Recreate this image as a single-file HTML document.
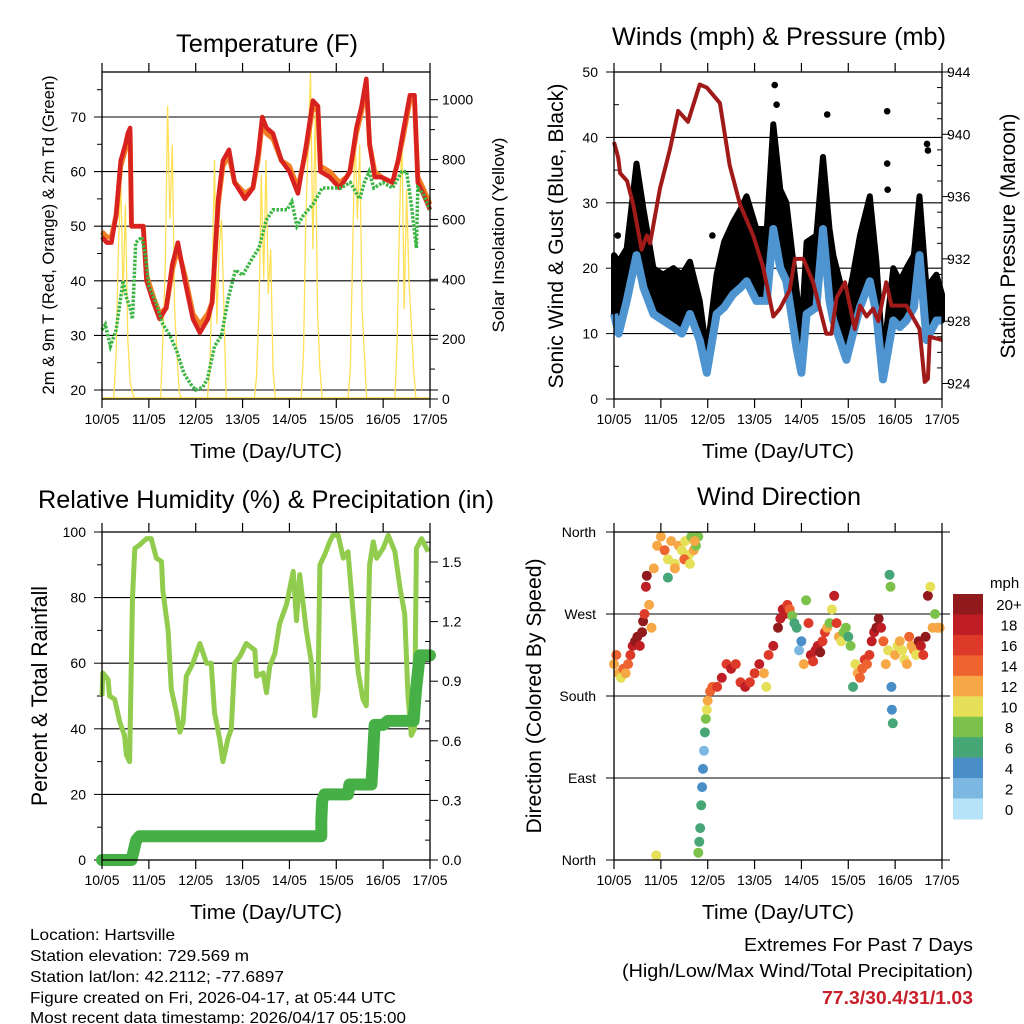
<!DOCTYPE html>
<html><head><meta charset="utf-8"><style>
html,body{margin:0;padding:0;background:#fff;}
svg{display:block;font-family:"Liberation Sans",sans-serif;}
</style></head><body>
<svg id="s" width="1024" height="1024" viewBox="0 0 1024 1024" xmlns="http://www.w3.org/2000/svg">
<g font-size="16" fill="#000">
<text x="30" y="940" textLength="145" lengthAdjust="spacingAndGlyphs">Location: Hartsville</text>
<text x="30" y="961" textLength="219" lengthAdjust="spacingAndGlyphs">Station elevation: 729.569 m</text>
<text x="30" y="982" textLength="254" lengthAdjust="spacingAndGlyphs">Station lat/lon: 42.2112; -77.6897</text>
<text x="30" y="1003" textLength="366" lengthAdjust="spacingAndGlyphs">Figure created on Fri, 2026-04-17, at 05:44 UTC</text>
<text x="30" y="1023" textLength="376" lengthAdjust="spacingAndGlyphs">Most recent data timestamp: 2026/04/17 05:15:00</text>
</g>
<g font-size="18">
<text x="744" y="951" textLength="229" lengthAdjust="spacingAndGlyphs">Extremes For Past 7 Days</text>
<text x="622" y="977" textLength="351" lengthAdjust="spacingAndGlyphs">(High/Low/Max Wind/Total Precipitation)</text>
<text x="822" y="1004" textLength="151" lengthAdjust="spacingAndGlyphs" fill="#c8202a" font-weight="bold">77.3/30.4/31/1.03</text>
</g>
</svg>
<script>
// ---------- data ----------
const dayLabels=["10/05","11/05","12/05","13/05","14/05","15/05","16/05","17/05"];
const tTime=[0,0.1,0.2,0.3,0.4,0.5,0.55,0.6,0.63,0.75,0.88,0.95,1.1,1.23,1.37,1.5,1.62,1.77,1.94,2.09,2.26,2.35,2.48,2.58,2.71,2.83,3.05,3.22,3.33,3.42,3.51,3.65,3.83,4.0,4.18,4.36,4.5,4.61,4.66,4.86,5.07,5.22,5.29,5.43,5.54,5.64,5.71,5.82,5.96,6.2,6.32,6.42,6.57,6.67,6.74,6.85,7.0];
const temp2m=[48,47,47,52,62,65,67,68,50,50,50,40,36,33,35,43,47,40,33,30.5,33,36,55,62,64,58,55,57,63,70,68,67,62,60,56,65,73,72,60,59,57,59,60,68,72,77,65,59,59,58,62,67,74,74,58,56,53];
const temp9m=[49,48,48,52,61,64,66,67,50,50,50,41,37,34,35,42,46,41,34,32,34,36,54,61,63,58,56,57,62,69,67,66,62,61,57,64,72,71,61,60,58,59,60,67,71,76,65,60,59,58,62,66,73,73,59,57,54];
const tdTime=[0,0.07,0.18,0.3,0.45,0.52,0.6,0.65,0.72,0.85,0.92,1.0,1.15,1.3,1.45,1.6,1.75,1.9,2.0,2.15,2.25,2.4,2.55,2.7,2.85,3.0,3.2,3.35,3.5,3.65,3.8,3.95,4.05,4.16,4.3,4.5,4.7,4.9,5.1,5.3,5.5,5.6,5.7,5.8,6.0,6.2,6.4,6.5,6.6,6.71,6.74,6.85,7.0];
const dewpoint=[31,32,28,31,40,37,35,33,47,48,45,39,36,32,30,27,23,21,20,20.5,22,28,30,37,42,41,44,46,51,53,53,53,54.5,50,52,54,57,57,57,58,55,58,60,57,58,57,60,60,54,46,57,56,53];
const solarDays=[0,1,2,3,4,5,6];
const solarHours=[0.25,0.3,0.35,0.4,0.45,0.5,0.55,0.6,0.65,0.7,0.75];
const solarD0=[0,150,500,740,350,650,200,60,20,0,0];
const solarD1=[0,200,450,980,600,850,300,150,20,0,0];
const solarD2=[0,100,400,800,250,500,600,320,0,0,0];
const solarD3=[0,80,300,750,400,800,350,500,100,0,0];
const solarD4=[0,150,600,850,1090,500,950,300,100,0,0];
const solarD5=[0,100,500,900,600,850,300,150,0,0,0];
const solarD6=[0,200,600,880,300,700,400,250,100,0,0];

const presTime=[0,0.09,0.13,0.28,0.41,0.59,0.7,0.77,0.98,1.19,1.37,1.58,1.83,1.98,2.26,2.47,2.69,2.97,3.18,3.4,3.54,3.75,3.86,4.04,4.25,4.53,4.64,4.75,4.93,5.14,5.25,5.39,5.53,5.64,5.81,5.92,6.24,6.52,6.63,6.7,6.74,7.0];
const pressure=[939.5,938.5,937.5,937,935.5,932.6,933.5,933,936.5,939,941.5,940.8,943.2,943,942,938,935.5,933.5,931.5,928.3,928.8,930,932,932,930.5,927.2,927.2,929.5,930.5,927.5,929,928.3,928.8,928,930.5,929,929,927.5,924.1,924.3,927,926.8];
const windTime=[0,0.1,0.27,0.48,0.63,0.84,1.05,1.27,1.45,1.62,1.83,1.98,2.19,2.35,2.54,2.7,2.83,3.04,3.26,3.4,3.55,3.68,3.89,4.0,4.11,4.32,4.46,4.6,4.68,4.96,5.1,5.25,5.46,5.6,5.74,5.96,6.1,6.24,6.4,6.52,6.67,6.88,7.0];
const gust=[22,21,23,36,29,20,19,20,19,21,15,7,19,24,27,29,31,26,26,42,32,30,17,10,24,25,37,26,22,14,19,25,31,21,6,20,18,20,22,31,17,19,16];
const wind=[13,10,15,22,17,13,12,11,10,13,9,4,13,14,16,17,18,15,15,26,20,18,8,4,13,14,26,15,12,6,10,14,18,13,3,12,11,12,14,22,9,12,12];
const gustOutTime=[3.43,3.47,4.55,5.83,5.83,5.84,6.68,6.7,0.08,2.1];
const gustOutVal=[48,45,43.5,44,36,32,39,38,25,25];

const rhTime=[0,0.02,0.13,0.16,0.27,0.38,0.48,0.52,0.59,0.65,0.7,0.8,0.95,1.05,1.16,1.27,1.3,1.41,1.48,1.59,1.66,1.73,1.8,1.94,2.09,2.23,2.33,2.4,2.51,2.58,2.69,2.76,2.83,2.94,3.08,3.26,3.3,3.44,3.51,3.58,3.69,3.79,3.94,4.08,4.15,4.22,4.36,4.47,4.54,4.61,4.65,4.75,4.86,4.93,5.04,5.15,5.25,5.36,5.47,5.57,5.64,5.71,5.79,5.86,6.0,6.11,6.25,6.36,6.46,6.53,6.6,6.67,6.71,6.82,6.96];
const rh=[50,57,55,50,49,42,38,32,30,80,95,96,98,98,92,91,82,70,52,45,39,42,56,60,66,60,60,45,37,30,37,40,60,62,66,64,56,57,51,59,63,72,78,88,73,87,70,60,44,52,90,93,97,99,99,92,94,75,57,49,47,90,97,92,95,99,94,83,75,50,38,40,95,98,94];
const rainTime=[0,0.63,0.73,0.8,4.68,4.68,4.7,4.75,5.25,5.28,5.75,5.78,5.8,5.82,6.0,6.1,6.65,6.7,6.78,7.0];
const rain=[0,0,0.1,0.12,0.12,0.2,0.3,0.33,0.33,0.38,0.38,0.5,0.6,0.68,0.68,0.7,0.7,0.85,1.03,1.03];

const wdTime=[0,0.05,0.1,0.15,0.2,0.25,0.3,0.35,0.4,0.45,
0.5,0.55,0.6,0.62,0.65,0.68,0.7,0.75,0.8,0.9,
0.85,0.92,1.0,1.08,1.15,1.22,1.3,1.38,1.45,1.52,
1.6,1.65,1.7,1.75,1.8,1.15,1.3,1.5,1.62,1.72,
1.8,1.82,1.84,1.86,1.88,1.9,1.92,1.94,1.96,1.98,
2.0,2.05,2.1,2.2,2.3,2.4,2.5,2.6,2.7,2.8,
2.9,3.0,3.1,3.2,3.25,3.3,3.4,3.5,3.55,3.6,
3.65,3.7,3.75,3.8,3.85,3.9,3.95,4.0,4.05,4.1,
4.15,4.2,4.25,4.3,4.35,4.4,4.45,4.5,4.55,4.6,
4.65,4.7,4.75,4.8,4.85,4.9,4.95,5.0,5.05,5.1,
5.15,5.2,5.25,5.3,5.35,5.4,5.45,5.5,5.55,5.6,
5.65,5.7,5.75,5.8,5.85,5.88,5.9,5.92,5.93,5.95,
6.0,6.05,6.1,6.15,6.2,6.25,6.3,6.35,6.4,6.45,
6.5,6.55,6.6,6.65,6.7,6.75,6.8,6.85,6.9,6.95];
const wdDir=[215,225,205,200,210,205,215,225,235,240,
245,235,250,262,270,300,312,280,255,5,
320,345,355,340,330,350,325,345,340,350,
335,355,340,345,355,310,320,330,325,350,
8,20,35,60,80,100,120,140,155,165,
175,185,190,190,200,215,210,215,195,190,
195,205,215,205,190,225,235,255,265,275,
270,280,275,268,260,255,230,240,215,285,
260,225,218,230,235,228,240,250,255,260,
275,290,260,245,240,250,255,245,235,190,
215,205,200,210,220,215,225,240,250,255,
265,255,240,215,230,313,300,190,165,150,
225,235,240,230,220,215,245,235,230,225,
240,235,225,245,290,300,255,270,255,255];
const wdSpeed=[12,14,12,11,15,13,14,16,19,20,
20,19,20,20,17,18,20,13,13,10,
12,13,12,14,11,12,10,13,11,10,
11,9,12,8,9,6,12,15,10,12,
8,7,6,6,4,4,3,6,8,10,
12,14,14,16,18,17,18,17,16,18,
17,16,18,12,11,17,19,20,19,19,
18,17,14,8,7,6,3,5,12,8,
17,18,16,19,18,20,17,16,13,8,
10,19,17,12,10,9,8,6,9,6,
10,12,14,14,16,15,17,18,19,20,
20,18,14,12,10,7,8,4,4,6,
12,10,13,11,10,12,14,13,12,11,
20,19,16,20,22,10,12,8,12,13];
const colorLevels=["0","2","4","6","8","10","12","14","16","18","20+"];
const colorScale=["#b6e3f8","#7cb8e2","#4a8ec8","#47a676","#7cc24a","#e6df58","#f7a846","#ee6430","#de3a2a","#be1e24","#911a1c"];

// ---------- helpers ----------
const NS="http://www.w3.org/2000/svg";
const svg=document.getElementById('s');
function el(tag,attrs,parent){const e=document.createElementNS(NS,tag);for(const k in attrs)e.setAttribute(k,attrs[k]);(parent||svg).appendChild(e);return e;}
function txt(s,attrs,parent){const e=el('text',attrs,parent);e.textContent=s;return e;}
function mkx(x0,x1){return d=>x0+(x1-x0)*d/7;}
function mky(v0,v1,yb,yt){return v=>yb-(v-v0)*(yb-yt)/(v1-v0);}
function pathOf(ts,vs,X,Y){return ts.map((t,i)=>(i?'L':'M')+X(t).toFixed(1)+','+Y(vs[i]).toFixed(1)).join('');}

function frame(g,L,R,T,B,X){
  dayLabels.forEach((lab,i)=>{
    const x=X(i);
    const tk=el('line',{x1:x,x2:x,y1:T-9,y2:T,stroke:'#000','stroke-width':1.2},g);
    
    
    const bt=el('line',{x1:x,x2:x,y1:B,y2:B+9,stroke:'#000','stroke-width':1.2},g);
    
    
    const t=txt(lab,{x:x,y:B+25,'font-size':14,'text-anchor':'middle'},g);
    
    
  });
  const xt=txt('Time (Day/UTC)',{x:(L+R)/2,y:B+59,'font-size':20,'text-anchor':'middle',textLength:152,lengthAdjust:'spacingAndGlyphs'},g);
  
  
}
function box(g,L,R,T,B){
  const r=el('rect',{x:L,y:T,width:R-L,height:B-T,fill:'none',stroke:'#000','stroke-width':1.3},g);
  
  
}
function hgrid(g,L,R,y,ext){
  const l=el('line',{x1:L-ext,x2:R+ext,y1:y,y2:y,stroke:'#000','stroke-width':1.1},g);
  
  
}
function title(g,s,x,y,w){
  const t=txt(s,{x:x,y:y,'font-size':25,'text-anchor':'middle',textLength:w,lengthAdjust:'spacingAndGlyphs'},g);
  
  
}
function ylab(g,s,x,y,size,w){
  const t=txt(s,{x:0,y:0,'font-size':size,'text-anchor':'middle',transform:`translate(${x},${y}) rotate(-90)`,textLength:w,lengthAdjust:'spacingAndGlyphs'},g);
  
  
}
function tickLab(g,s,x,y,anchor){
  const t=txt(s,{x:x,y:y+5,'font-size':14,'text-anchor':anchor},g);
  
  
}
function minor(g,x,y,len){el('line',{x1:x,x2:x+len,y1:y,y2:y,stroke:'#000','stroke-width':1},g);}

// ---------- Panel 1: temperature ----------
(function(){
  const L=102,R=430,T=72,B=399;
  const g=el('g',{});
  
  
  const X=mkx(L,R), Y=mky(20,70,390,117), YS=mky(0,1000,399,99.7);
  title(g,'Temperature (F)',267,52,182);
  [20,30,40,50,60,70].forEach(v=>{hgrid(g,L,R,Y(v),8);tickLab(g,String(v),86,Y(v),'end');});
  [25,35,45,55,65,75].forEach(v=>minor(g,L,Y(v),-5));
  [0,200,400,600,800,1000].forEach(v=>{el('line',{x1:R,x2:R+8,y1:YS(v),y2:YS(v),stroke:'#000'},g);tickLab(g,String(v),442,YS(v),'start');});
  [100,300,500,700,900,1100].forEach(v=>{if(YS(v)>T)minor(g,R,YS(v),5);});
  const solarAll=[solarD0,solarD1,solarD2,solarD3,solarD4,solarD5,solarD6];
  solarDays.forEach((d,i)=>{
    const ts=[d].concat(solarHours.map(h=>d+h)).concat([d+0.9]);
    const vs=[0].concat(solarAll[i]).concat([0]);
    const p=el('path',{d:pathOf(ts,vs,X,v=>YS(v)),fill:'none',stroke:'#ffe055','stroke-width':1.3},g);
    
    
  });
  const base=el('line',{x1:L,x2:R,y1:B-1,y2:B-1,stroke:'#ffe055','stroke-width':1.5},g);
  
  
  const o=el('path',{d:pathOf(tTime,temp9m,X,Y),fill:'none',stroke:'#f27d22','stroke-width':5,'stroke-linejoin':'round'},g);
  
  
  const r=el('path',{d:pathOf(tTime,temp2m,X,Y),fill:'none',stroke:'#d8221f','stroke-width':4.5,'stroke-linejoin':'round'},g);
  
  
  const gd=el('path',{d:pathOf(tdTime,dewpoint,X,Y),fill:'none',stroke:'#3db545','stroke-width':3.5,'stroke-dasharray':'2.5,1.5'},g);
  
  
  box(g,L,R,T,B);frame(g,L,R,T,B,X);
  ylab(g,'2m & 9m T (Red, Orange) & 2m Td (Green)',54,235,17,319);
  ylab(g,'Solar Insolation (Yellow)',504,235,17,195);
})();

// ---------- Panel 2: winds & pressure ----------
(function(){
  const L=614,R=942,T=72,B=399;
  const g=el('g',{});
  
  
  const X=mkx(L,R), Y=mky(0,50,399,72), YP=mky(924,944,383.5,72);
  title(g,'Winds (mph) & Pressure (mb)',779,45,334);
  [0,10,20,30,40,50].forEach(v=>{if(v>0&&v<50)hgrid(g,L,R,Y(v),0);el('line',{x1:L-8,x2:L,y1:Y(v),y2:Y(v),stroke:'#000'},g);tickLab(g,String(v),598,Y(v),'end');});
  [5,15,25,35,45].forEach(v=>minor(g,L,Y(v),5));
  [924,928,932,936,940,944].forEach(v=>{el('line',{x1:R,x2:R+8,y1:YP(v),y2:YP(v),stroke:'#000'},g);tickLab(g,String(v),947,YP(v),'start');});
  for(let v=925;v<944;v++){if(v%4)minor(g,R,YP(v),-5);}
  // gust cloud: band from wind up to gust
  const up=windTime.map((t,i)=>(i?'L':'M')+X(t).toFixed(1)+','+Y(gust[i]).toFixed(1)).join('');
  const dn=windTime.slice().reverse().map((t,k)=>{const i=windTime.length-1-k;return 'L'+X(t).toFixed(1)+','+Y(wind[i]).toFixed(1);}).join('');
  const gp=el('path',{d:up+dn+'Z',fill:'#000',stroke:'#000','stroke-width':6,'stroke-linejoin':'round'},g);
  
  
  gustOutTime.forEach((t,i)=>{
    const c=el('circle',{cx:X(t),cy:Y(gustOutVal[i]),r:3.3,fill:'#000'},g);
    
    
  });
  const wp=el('path',{d:pathOf(windTime,wind,X,Y),fill:'none',stroke:'#4d94d0','stroke-width':8,'stroke-linejoin':'round'},g);
  
  
  const pp=el('path',{d:pathOf(presTime,pressure,X,YP),fill:'none',stroke:'#a01a1a','stroke-width':4,'stroke-linejoin':'round'},g);
  
  
  box(g,L,R,T,B);frame(g,L,R,T,B,X);
  ylab(g,'Sonic Wind & Gust (Blue, Black)',563,236,21,305);
  ylab(g,'Station Pressure (Maroon)',1015,236,21,245);
})();

// ---------- Panel 3: RH & precip ----------
(function(){
  const L=102,R=430,T=532,B=860;
  const g=el('g',{});
  
  
  const X=mkx(L,R), Y=mky(0,100,860,532), YR=mky(0,1.5,860,562);
  title(g,'Relative Humidity (%) & Precipitation (in)',266,508,456);
  [0,20,40,60,80,100].forEach(v=>{if(v>0&&v<100)hgrid(g,L,R,Y(v),0);el('line',{x1:L-8,x2:L,y1:Y(v),y2:Y(v),stroke:'#000'},g);tickLab(g,String(v),86,Y(v),'end');});
  [10,30,50,70,90].forEach(v=>minor(g,L,Y(v),-5));
  [0,0.3,0.6,0.9,1.2,1.5].forEach(v=>{el('line',{x1:R,x2:R+8,y1:YR(v),y2:YR(v),stroke:'#000'},g);tickLab(g,v.toFixed(1),442,YR(v),'start');});
  [0.1,0.2,0.4,0.5,0.7,0.8,1.0,1.1,1.3,1.4,1.6].forEach(v=>minor(g,R,YR(v),-5));
  const rp=el('path',{d:pathOf(rhTime,rh,X,Y),fill:'none',stroke:'#92cc4e','stroke-width':5,'stroke-linejoin':'round'},g);
  
  
  const pp=el('path',{d:pathOf(rainTime,rain,X,YR),fill:'none',stroke:'#46b046','stroke-width':12,'stroke-linejoin':'round','stroke-linecap':'round'},g);
  
  
  box(g,L,R,T,B);frame(g,L,R,T,B,X);
  ylab(g,'Percent & Total Rainfall',47,696,22,220);
})();

// ---------- Panel 4: wind direction ----------
(function(){
  const L=614,R=942,T=532,B=860;
  const g=el('g',{});
  
  
  const X=mkx(L,R), Y=mky(0,360,860,532);
  title(g,'Wind Direction',779,505,164);
  const dirNames=['North','East','South','West','North'];
  dirNames.forEach((n,i)=>{const y=Y(i*90);hgrid(g,L,R,y,8);tickLab(g,n,596,y,'end');});
  function colIdx(s){return Math.max(0,Math.min(10,Math.floor(s/2)));}
  wdTime.forEach((t,i)=>{
    const c=el('circle',{cx:X(t).toFixed(1),cy:Y(wdDir[i]).toFixed(1),r:5,fill:colorScale[colIdx(wdSpeed[i])]},g);
    
    
  });
  box(g,L,R,T,B);frame(g,L,R,T,B,X);
  ylab(g,'Direction (Colored By Speed)',541,696,21,275);
  const lg=el('g',{},g);
  
  
  const lt=txt('mph',{x:990,y:588,'font-size':15},lg);
  
  
  const bh=225/colorLevels.length;
  colorLevels.forEach((lab,i)=>{
    const k=colorLevels.length-1-i;
    const y=594+i*bh;
    const r=el('rect',{x:953,y:y,width:30,height:bh+0.5,fill:colorScale[k]},lg);
    
    
    const t=txt(colorLevels[k],{x:1009,y:y+bh/2+6,'font-size':15,'text-anchor':'middle'},lg);
    
    
  });
})();
</script>
</body></html>
